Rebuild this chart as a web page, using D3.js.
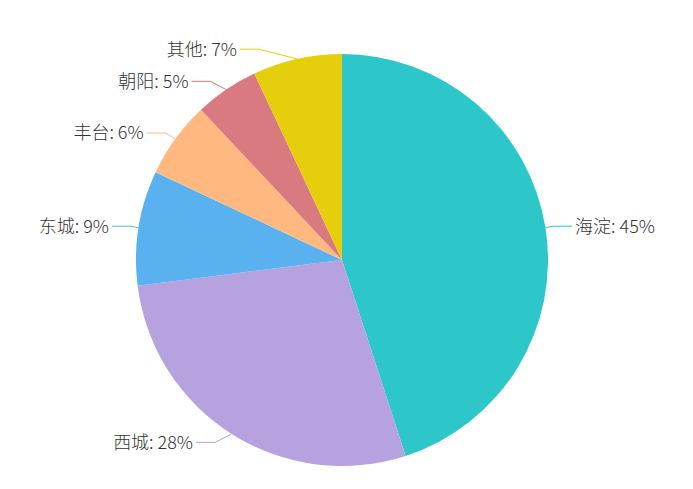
<!DOCTYPE html>
<html>
<head>
<meta charset="utf-8">
<script src="https://cdn.jsdelivr.net/npm/d3@7"></script>
<style>
  html, body { margin: 0; padding: 0; background: #fff; }
  #pie-frame text { font-family: "Microsoft YaHei", "Noto Sans CJK SC", sans-serif; }
</style>
</head>
<body>
<div id="pie-frame"></div>
<script>
// region share, clockwise from 12 o'clock
const districts = ["海淀", "西城", "东城", "丰台", "朝阳", "其他"];
const shares = [45, 28, 9, 6, 5, 7];
const sliceColors = ["#2ec7c9", "#b6a2de", "#5ab1ef", "#ffb980", "#d87a80", "#e5cf0d"];

const PIE = {
    "width" : 693,
    "height" : 489,
    "cx" : 342,
    "cy" : 260,
    "radius" : 206
}

const LABEL_LINE = {
    "length" : 10,      // radial offset that sets the label row
    "textRadius" : 235.5, // where the text edge sits
    "length2" : 22,     // horizontal part
    "gap" : 3
}

var data = districts.map(function (d, i) {
    return {"name" : d, "value" : shares[i], "color" : sliceColors[i]};
});

var svg = d3.select("#pie-frame")
    .append("svg")
    .attr("width", PIE.width)
    .attr("height", PIE.height);

var g = svg.append("g")
    .attr("transform", "translate(" + PIE.cx + "," + PIE.cy + ")");

var pie = d3.pie()
    .sort(null)
    .value(function (d) { return d.value; });

var arc = d3.arc()
    .innerRadius(0)
    .outerRadius(PIE.radius);

var arcs = pie(data);

g.selectAll(".slice")
    .data(arcs)
    .enter().append("path")
    .attr("class", "slice")
    .attr("d", arc)
    .attr("fill", function (d) { return d.data.color; });

// work out label placement the way the original lib does it
arcs.forEach(function (d) {
    var mid = (d.startAngle + d.endAngle) / 2;
    var sx = Math.sin(mid), sy = -Math.cos(mid);
    d.dir = sx < 0 ? -1 : 1;
    d.edge = [PIE.radius * sx, PIE.radius * sy];
    d.labelY = (PIE.radius + LABEL_LINE.length) * sy;
    var dx = Math.sqrt(LABEL_LINE.textRadius * LABEL_LINE.textRadius - d.labelY * d.labelY);
    d.textX = d.dir * dx;
    d.elbow = [d.textX - d.dir * LABEL_LINE.length2, d.labelY];
    d.lineEnd = [d.textX - d.dir * LABEL_LINE.gap, d.labelY];
});

g.selectAll(".label-line")
    .data(arcs)
    .enter().append("polyline")
    .attr("class", "label-line")
    .attr("points", function (d) { return [d.edge, d.elbow, d.lineEnd].join(" "); })
    .attr("fill", "none")
    .attr("stroke", function (d) { return d.data.color; })
    .attr("stroke-width", 1);

g.selectAll(".label")
    .data(arcs)
    .enter().append("text")
    .attr("class", "label")
    .attr("x", function (d) { return d.textX; })
    .attr("y", function (d) { return d.labelY; })
    .attr("dy", "0.35em")
    .attr("text-anchor", function (d) { return d.dir < 0 ? "end" : "start"; })
    .attr("font-size", 18)
    .attr("font-weight", 300)
    .attr("fill", "#333")
    .text(function (d) { return d.data.name + ": " + d.data.value + "%"; });
</script>
</body>
</html>
